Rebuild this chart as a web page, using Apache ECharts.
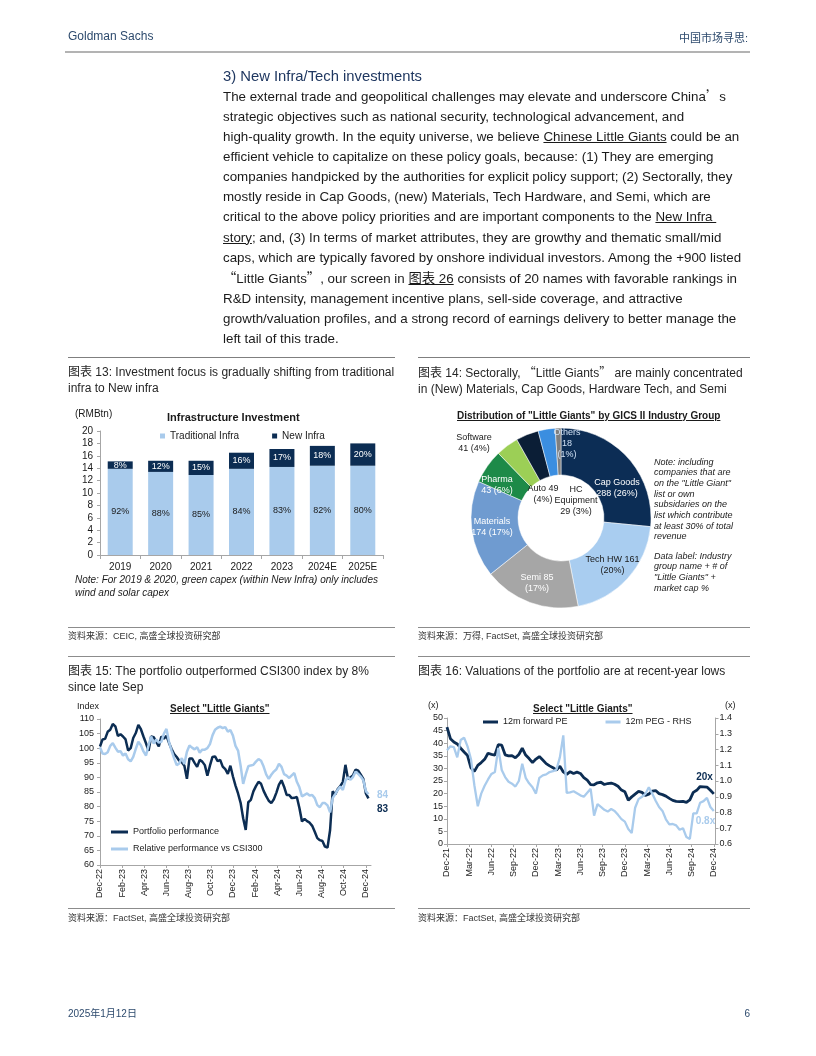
<!DOCTYPE html>
<html><head><meta charset="utf-8">
<script src="https://cdn.jsdelivr.net/npm/echarts@6/dist/echarts.min.js"></script>
<style>
html,body{margin:0;padding:0;background:#fff;}
#page{position:relative;width:816px;height:1056px;overflow:hidden;font-family:'Liberation Sans',Arial,'Noto Sans CJK SC',sans-serif;color:#1a1a1a;}
.t{position:absolute;white-space:nowrap;line-height:1;}
.cjk{font-family:'Noto Sans CJK SC',sans-serif;}
.rule{position:absolute;height:0;border-top:1px solid #8c8c8c;}
#chart{position:absolute;left:0;top:0;width:816px;height:1056px;}
.ptitle{font-size:12px;color:#262626;}
.src{font-size:9px;color:#333;}
u{text-decoration:underline;}
</style></head>
<body>
<div id="page">
<div id="chart"></div>

<div class="t" style="left:68px;top:30px;font-size:12px;color:#2d4a6d;">Goldman Sachs</div>
<div class="t" style="right:68px;top:32.5px;font-size:11px;color:#2d4a6d;">中国市场寻思:</div>
<div style="position:absolute;left:65px;top:51px;width:685px;height:2px;background:#b3b3b3;"></div>

<div class="t" style="left:223px;top:68.5px;font-size:14.8px;color:#1f3760;">3) New Infra/Tech investments</div>
<div class="t" style="left:223px;top:86px;font-size:13.35px;line-height:20.08px;color:#1a1a1a;">
The external trade and geopolitical challenges may elevate and underscore China<span class="cjk">’</span>s<br>
strategic objectives such as national security, technological advancement, and<br>
high-quality growth. In the equity universe, we believe <u>Chinese Little Giants</u> could be an<br>
efficient vehicle to capitalize on these policy goals, because: (1) They are emerging<br>
companies handpicked by the authorities for explicit policy support; (2) Sectorally, they<br>
mostly reside in Cap Goods, (new) Materials, Tech Hardware, and Semi, which are<br>
critical to the above policy priorities and are important components to the <u>New Infra&nbsp;</u><br>
<u>story</u>; and, (3) In terms of market attributes, they are growthy and thematic small/mid<br>
caps, which are typically favored by onshore individual investors. Among the +900 listed<br>
<span class="cjk">“</span>Little Giants<span class="cjk">”</span>, our screen in <u>图表 26</u> consists of 20 names with favorable rankings in<br>
R&amp;D intensity, management incentive plans, sell-side coverage, and attractive<br>
growth/valuation profiles, and a strong record of earnings delivery to better manage the<br>
left tail of this trade.
</div>

<!-- panel rules -->
<div class="rule" style="left:68px;top:357px;width:327px;border-color:#7f7f7f;"></div>
<div class="rule" style="left:418px;top:357px;width:332px;border-color:#7f7f7f;"></div>
<div class="t ptitle" style="left:68px;top:364px;line-height:16px;">图表 13: Investment focus is gradually shifting from traditional<br>infra to New infra</div>
<div class="t ptitle" style="left:418px;top:364px;line-height:16px;">图表 14: Sectorally, <span class="cjk">“</span>Little Giants<span class="cjk">”</span> are mainly concentrated<br>in (New) Materials, Cap Goods, Hardware Tech, and Semi</div>

<div class="t" style="left:75px;top:409px;font-size:10px;">(RMBtn)</div>
<div class="t" style="left:167px;top:411.5px;font-size:11px;font-weight:bold;">Infrastructure Investment</div>
<div class="t" style="left:75px;top:573px;font-size:10px;font-style:italic;line-height:13px;">Note: For 2019 &amp; 2020, green capex (within New Infra) only includes<br>wind and solar capex</div>

<div class="t" style="left:457px;top:411px;font-size:10px;font-weight:bold;"><u>Distribution of "Little Giants" by GICS II Industry Group</u></div>
<div class="t" style="left:654px;top:456.5px;font-size:9px;font-style:italic;line-height:10.7px;">Note: including<br>companies that are<br>on the "Little Giant"<br>list or own<br>subsidaries on the<br>list which contribute<br>at least 30% of total<br>revenue</div>
<div class="t" style="left:654px;top:550.5px;font-size:9px;font-style:italic;line-height:10.7px;">Data label: Industry<br>group name + # of<br>"Little Giants" +<br>market cap %</div>

<div class="rule" style="left:68px;top:627px;width:327px;"></div>
<div class="rule" style="left:418px;top:627px;width:332px;"></div>
<div class="t src" style="left:68px;top:632px;">资料来源：CEIC, 高盛全球投资研究部</div>
<div class="t src" style="left:418px;top:632px;">资料来源：万得, FactSet, 高盛全球投资研究部</div>
<div class="rule" style="left:68px;top:656px;width:327px;"></div>
<div class="rule" style="left:418px;top:656px;width:332px;"></div>
<div class="t ptitle" style="left:68px;top:663px;line-height:16px;">图表 15: The portfolio outperformed CSI300 index by 8%<br>since late Sep</div>
<div class="t ptitle" style="left:418px;top:663px;line-height:16px;">图表 16: Valuations of the portfolio are at recent-year lows</div>

<div class="t" style="left:77px;top:701.5px;font-size:9px;">Index</div>
<div class="t" style="left:170px;top:704px;font-size:10px;font-weight:bold;"><u>Select "Little Giants"</u></div>
<div class="t" style="left:428px;top:701px;font-size:9px;">(x)</div>
<div class="t" style="left:725px;top:701px;font-size:9px;">(x)</div>
<div class="t" style="left:533px;top:704px;font-size:10px;font-weight:bold;"><u>Select "Little Giants"</u></div>

<div class="rule" style="left:68px;top:908px;width:327px;"></div>
<div class="rule" style="left:418px;top:908px;width:332px;"></div>
<div class="t src" style="left:68px;top:913.5px;">资料来源：FactSet, 高盛全球投资研究部</div>
<div class="t src" style="left:418px;top:913.5px;">资料来源：FactSet, 高盛全球投资研究部</div>

<div class="t" style="left:68px;top:1009px;font-size:10px;color:#2d4a6d;">2025年1月12日</div>
<div class="t" style="right:66px;top:1009px;font-size:10px;color:#2d4a6d;">6</div>
</div>

<script>
// ---------- data ----------
const infraYears = ['2019','2020','2021','2022','2023','2024E','2025E'];
const traditionalInfra = [13.9,13.4,12.9,13.9,14.2,14.4,14.4];
const newInfra = [1.2,1.8,2.3,2.6,2.9,3.2,3.6];
const traditionalPct = [92,88,85,84,83,82,80];
const newPct = [8,12,15,16,17,18,20];

const sectorNames = ['Cap Goods','Tech HW','Semi','Materials','Pharma','Software','Auto','HC Equipment','Others'];
const sectorCounts = [288,161,85,174,43,41,49,29,18];
const sectorCapPct = [26,20,17,17,6,4,4,3,1];

const perfTicks = ['Dec-22','Feb-23','Apr-23','Jun-23','Aug-23','Oct-23','Dec-23','Feb-24','Apr-24','Jun-24','Aug-24','Oct-24','Dec-24'];
// weekly, from end-Dec 2022
const portfolioPerf = [100.6,103,103.2,105.6,106.3,108.3,107.5,104.2,104.8,104,
103,99.2,100,103.5,105.2,108,106.5,104,101.7,99.1,
104,103.8,102.2,100.6,104,103.3,104.2,101.8,99.7,98,
97,95.7,95.2,94,89.5,96.5,96.5,95,93.6,96,
95.4,94.2,90.6,94,97,97.2,95.6,96,93.7,92.8,
91.2,94,90.3,87.2,84.5,81.3,76,72,81.5,82.3,
85.2,87,88.5,87.8,85.4,83.6,82,81.2,82.5,84.8,
87.5,89,86.8,84,84,82.9,83,83.3,79.5,74.9,
75.8,75,74.5,73.4,71.4,69.2,68.5,68.2,66.3,66,
72,85.2,84.2,86,87,88.5,94.3,89.5,90,90.8,
92.7,92.3,90.9,89.5,84.5,82.8];
const relativePerf = [100.3,98.2,98,98.6,100.8,101.7,100.2,98.8,99,97.5,
98.2,96.2,95.5,97,99.8,102.2,101,98.9,97.5,101,
104,101.6,103,101.9,102.2,105,106.6,102.2,99.2,96.5,
94.2,94.8,96.6,94.6,98.8,100.9,100.2,99.6,100.3,98.5,
99.5,99.5,100,101.4,104.4,106.3,107,107.4,106.9,107.2,
105.7,106.2,104.3,100.8,99.2,94,87.8,91,93.8,94.1,
94.3,95.4,96.3,95.7,93.7,91,89.5,90.9,92,92.8,
94.7,93.6,91.1,90.6,89.8,90.7,91.5,88.5,86.6,83.5,
84,84.5,83.8,84,82.9,80.5,79.8,81.2,81.2,80.4,
78,82.9,84.3,85.8,86.9,85.7,89,90,89.2,90.2,
92,91.2,90.3,89,85.3,84.2];

const valTicks = ['Dec-21','Mar-22','Jun-22','Sep-22','Dec-22','Mar-23','Jun-23','Sep-23','Dec-23','Mar-24','Jun-24','Sep-24','Dec-24'];
// bi-weekly, from end-Dec 2021
const forwardPE = [46.4,41.8,40.5,39.7,38,36.5,35.1,30.2,28.8,31.2,
32.3,33.6,36,35.6,35.3,39.4,39.2,35.4,35,35.1,
34.2,35.5,38,35.3,33.9,32.3,33.7,34.7,33.3,31.9,
31,30.3,29.3,30.9,28.6,27.6,28.7,28,28.5,28,
26.3,25.3,23.6,23.5,24.3,24.5,23.6,24,24.2,23.7,
22.9,21.4,20.7,17.4,18.7,19.8,20.9,20.5,19.3,19.8,
21,21.2,20,19.6,19,18.1,17.3,16.9,16.8,16.9,
16.5,17.5,20.5,21.3,22.8,22.7,22.6,21.3,19.9];
const pegRatio = [1.195,1.22,1.215,1.15,1.26,1.275,1.22,1.14,0.973,0.84,
0.92,0.97,1.01,1.045,1.057,1.21,1.07,1.025,0.995,0.983,
0.965,1.0,1.11,1.02,0.985,0.96,0.92,1.02,1.036,1.042,
1.057,1.062,1.072,1.15,1.29,0.925,0.928,0.935,0.922,0.909,
0.9,0.925,0.95,0.78,0.853,0.836,0.817,0.806,0.822,0.81,
0.785,0.758,0.742,0.695,0.67,0.83,0.885,0.9,0.918,0.96,
0.92,0.875,0.835,0.81,0.757,0.725,0.727,0.718,0.69,0.70,
0.644,0.632,0.795,0.795,0.862,0.872,0.893,0.835,0.81];

// ---------- styles ----------
const NAVY = '#0c2d53', LIGHT = '#a9cbec', AXIS = '#a6a6a6', TXT = '#1a1a1a';
const FONT = "'Liberation Sans', Arial, sans-serif";
const sectorColors = ['#0c2d55','#a9cdf0','#a6a6a6','#6f9bd0','#1d8a48','#9ccf56','#0b1e36','#3b8ee0','#7f7f7f'];
const pieLabelLayout = ['nl','sp','sp','nl','nl','nl','sp','hc','st'];
function sectorLabel(i){
  const n = sectorNames[i], c = sectorCounts[i], p = '(' + sectorCapPct[i] + '%)';
  switch (pieLabelLayout[i]) {
    case 'sp': return n + ' ' + c + '\n' + p;
    case 'hc': return n.replace(' ', '\n') + '\n' + c + ' ' + p;
    case 'st': return n + '\n' + c + '\n' + p;
    default: return n + '\n' + c + ' ' + p;
  }
}
const nativeLabel = {1:TXT, 2:'#fff', 3:'#fff'};
const graphicLabels = [
  {i:0, x:617, y:488, fill:'#fff'},
  {i:4, x:497, y:485, fill:'#fff'},
  {i:5, x:474, y:443, fill:TXT},
  {i:6, x:543, y:494, fill:TXT},
  {i:7, x:576, y:501, fill:TXT},
  {i:8, x:567, y:444, fill:'#cfe0f4'}
];

const W15 = 52 / 6; // 2 months in weeks
const perfPts = a => a.map((v, i) => [i, v]);
const valPts = a => a.map((v, i) => [i * 2, v]);
const lastOf = pts => pts[pts.length - 1];

const axisCommon = {
  axisLine: {show: true, lineStyle: {color: AXIS, width: 1}},
  axisTick: {show: true, length: 3, lineStyle: {color: AXIS}},
  splitLine: {show: false}
};

const pfPts = perfPts(portfolioPerf), rlPts = perfPts(relativePerf);
const pePts = valPts(forwardPE), pgPts = valPts(pegRatio);

function endMark(pt, color, text, offset){
  return {
    symbol: 'circle', symbolSize: 1, silent: true,
    itemStyle: {color: 'rgba(0,0,0,0)'},
    label: {show: true, position: 'inside', offset: offset, color: color, fontWeight: 'bold', fontSize: 10, fontFamily: FONT, formatter: text},
    data: [{coord: pt}]
  };
}

const chart = echarts.init(document.getElementById('chart'), null, {renderer: 'canvas'});
chart.setOption({
  animation: false,
  textStyle: {fontFamily: FONT},
  grid: [
    {left: 100, top: 431, width: 283, height: 124},
    {left: 100, top: 719, width: 271, height: 146},
    {left: 447, top: 718, width: 268.5, height: 126}
  ],
  xAxis: [
    Object.assign({}, axisCommon, {gridIndex: 0, type: 'category', data: infraYears,
      axisTick: {show: true, length: 4, lineStyle: {color: AXIS}},
      axisLabel: {color: TXT, fontSize: 10, margin: 7}}),
    Object.assign({}, axisCommon, {gridIndex: 1, type: 'value', min: 0, max: 106, interval: W15,
      axisLabel: {rotate: 90, color: TXT, fontSize: 9, margin: 4, showMaxLabel: false,
        formatter: v => perfTicks[Math.round(v / W15)] || ''}}),
    Object.assign({}, axisCommon, {gridIndex: 2, type: 'value', min: 0, max: 157, interval: 13,
      axisLabel: {rotate: 90, color: TXT, fontSize: 9, margin: 4, showMaxLabel: false,
        formatter: v => valTicks[Math.round(v / 13)] || ''}})
  ],
  yAxis: [
    Object.assign({}, axisCommon, {gridIndex: 0, type: 'value', min: 0, max: 20, interval: 2,
      axisLabel: {color: TXT, fontSize: 10, margin: 7}}),
    Object.assign({}, axisCommon, {gridIndex: 1, type: 'value', min: 60, max: 110, interval: 5,
      axisLabel: {color: TXT, fontSize: 9, margin: 6}}),
    Object.assign({}, axisCommon, {gridIndex: 2, type: 'value', min: 0, max: 50, interval: 5,
      axisLabel: {color: TXT, fontSize: 9, margin: 4}}),
    Object.assign({}, axisCommon, {gridIndex: 2, type: 'value', position: 'right', min: 0.6, max: 1.4, interval: 0.1,
      axisLabel: {color: TXT, fontSize: 9, margin: 4, formatter: v => v.toFixed(1)}})
  ],
  legend: [
    {data: ['Traditional Infra', 'New Infra'], left: 160, top: 431, padding: 0, icon: 'rect',
      itemWidth: 5, itemHeight: 5, itemGap: 33, textStyle: {fontSize: 10, color: TXT, fontFamily: FONT}},
    {data: ['Portfolio performance', 'Relative performance vs CSI300'], orient: 'vertical', left: 111, top: 827.5, padding: 0,
      icon: 'rect', itemWidth: 17, itemHeight: 3, itemGap: 8, textStyle: {fontSize: 9, color: TXT, fontFamily: FONT}},
    {data: ['12m forward PE', '12m PEG - RHS'], left: 483, top: 717.5, padding: 0,
      icon: 'rect', itemWidth: 15, itemHeight: 3, itemGap: 38, textStyle: {fontSize: 9, color: TXT, fontFamily: FONT}}
  ],
  graphic: graphicLabels.map(g => ({
    type: 'text', x: g.x, y: g.y, silent: true, z: 100,
    style: {text: sectorLabel(g.i), fill: g.fill, fontSize: 9, lineHeight: 11, fontFamily: FONT,
      align: 'center', verticalAlign: 'middle'}
  })),
  series: [
    {type: 'bar', name: 'Traditional Infra', xAxisIndex: 0, yAxisIndex: 0, stack: 'infra', barWidth: 25,
      data: traditionalInfra, itemStyle: {color: LIGHT},
      label: {show: true, position: 'inside', fontSize: 9, color: TXT, formatter: p => traditionalPct[p.dataIndex] + '%'}},
    {type: 'bar', name: 'New Infra', xAxisIndex: 0, yAxisIndex: 0, stack: 'infra', barWidth: 25,
      data: newInfra, itemStyle: {color: NAVY},
      label: {show: true, position: 'inside', fontSize: 9, color: '#fff', formatter: p => newPct[p.dataIndex] + '%'}},
    {type: 'pie', name: 'sectors', center: [561, 518], radius: [43, 90], startAngle: 90, clockwise: true,
      avoidLabelOverlap: false, silent: true,
      itemStyle: {borderColor: '#fff', borderWidth: 0.5},
      labelLine: {show: false},
      data: sectorNames.map((n, i) => ({
        name: n, value: sectorCapPct[i], itemStyle: {color: sectorColors[i]},
        label: nativeLabel[i] ? {show: true, position: 'inside', color: nativeLabel[i], fontSize: 9, lineHeight: 11,
          formatter: () => sectorLabel(i)} : {show: false}
      }))},
    {type: 'line', name: 'Portfolio performance', xAxisIndex: 1, yAxisIndex: 1, data: pfPts,
      symbol: 'none', lineStyle: {width: 2.5, color: NAVY}, itemStyle: {color: NAVY},
      markPoint: endMark(lastOf(pfPts), NAVY, String(Math.round(lastOf(pfPts)[1])), [14, 10.6])},
    {type: 'line', name: 'Relative performance vs CSI300', xAxisIndex: 1, yAxisIndex: 1, data: rlPts,
      symbol: 'none', lineStyle: {width: 2.5, color: LIGHT}, itemStyle: {color: LIGHT},
      markPoint: endMark(lastOf(rlPts), LIGHT, String(Math.round(lastOf(rlPts)[1])), [14, 0.7])},
    {type: 'line', name: '12m forward PE', xAxisIndex: 2, yAxisIndex: 2, data: pePts,
      symbol: 'none', lineStyle: {width: 2.8, color: NAVY}, itemStyle: {color: NAVY},
      markPoint: endMark(lastOf(pePts), NAVY, Math.round(lastOf(pePts)[1]) + 'x', [-9.3, -17])},
    {type: 'line', name: '12m PEG - RHS', xAxisIndex: 2, yAxisIndex: 3, data: pgPts,
      symbol: 'none', lineStyle: {width: 2.3, color: LIGHT}, itemStyle: {color: LIGHT},
      markPoint: endMark(lastOf(pgPts), LIGHT, lastOf(pgPts)[1].toFixed(1) + 'x', [-8.3, 10])}
  ]
});
</script>
</body></html>
